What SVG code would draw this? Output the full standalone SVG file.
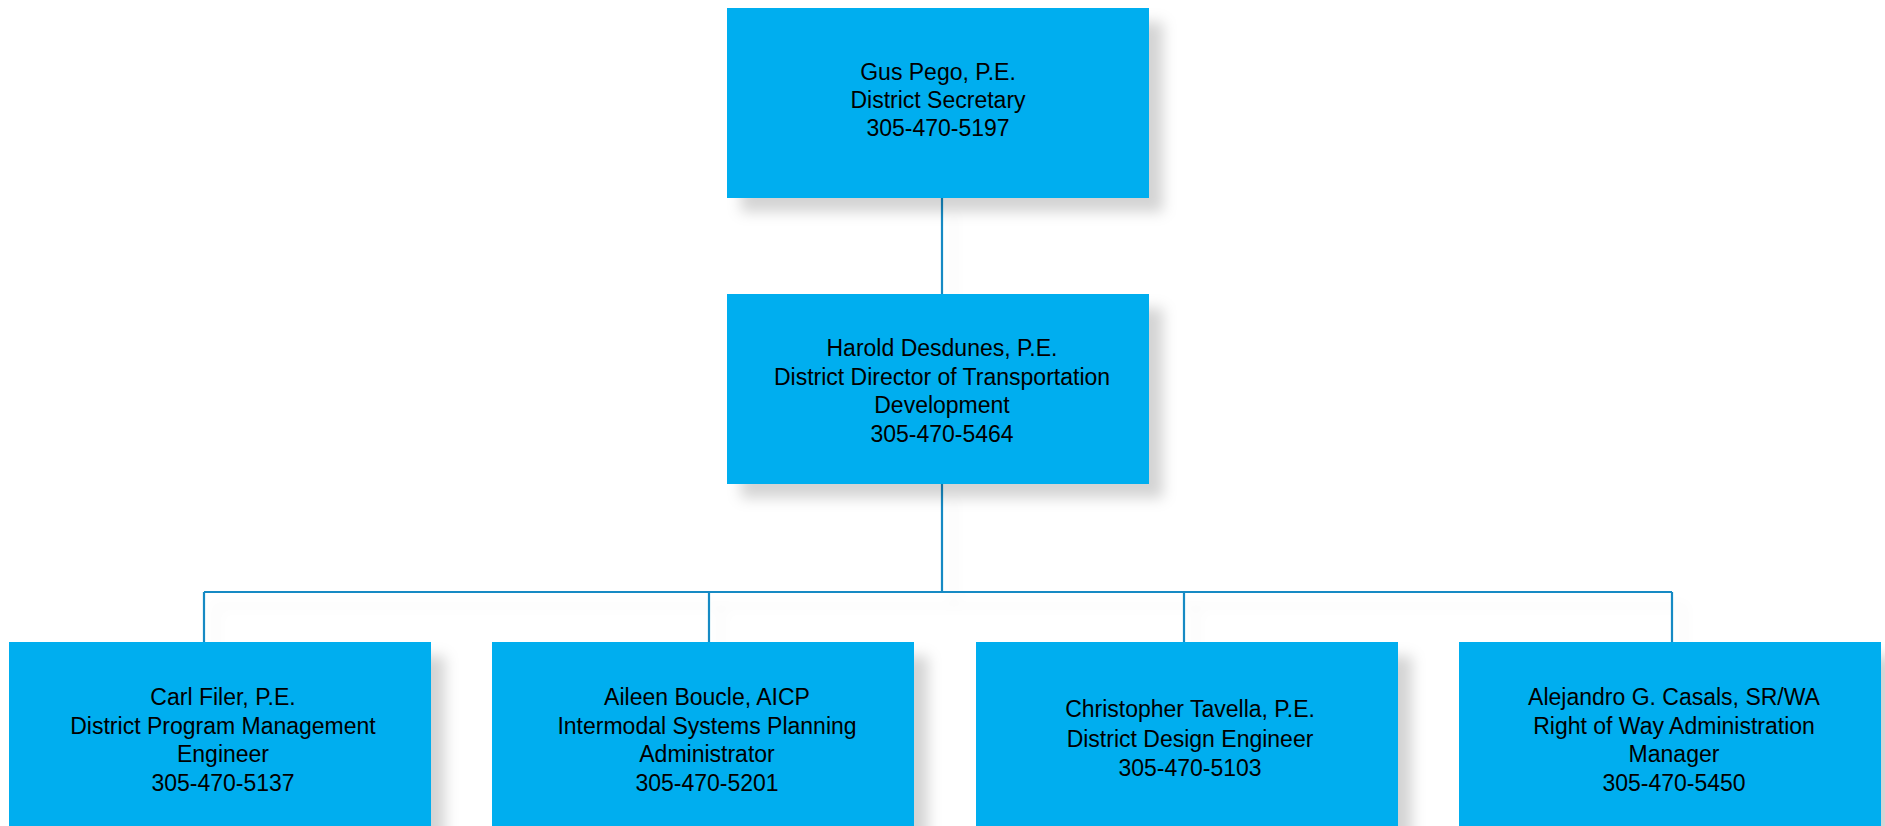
<svg xmlns="http://www.w3.org/2000/svg" width="1885" height="826" viewBox="0 0 1885 826">
<defs>
<filter id="sh" x="-10%" y="-10%" width="135%" height="150%">
<feGaussianBlur in="SourceAlpha" stdDeviation="7"/>
<feOffset dx="14" dy="14" result="b"/>
<feFlood flood-color="#000" flood-opacity="0.17"/>
<feComposite in2="b" operator="in"/>
<feMerge><feMergeNode/><feMergeNode in="SourceGraphic"/></feMerge>
</filter>
<filter id="lsh" x="-5%" y="-50%" width="110%" height="300%">
<feGaussianBlur in="SourceAlpha" stdDeviation="6"/>
<feOffset dx="12" dy="14" result="b"/>
<feFlood flood-color="#000" flood-opacity="0.05"/>
<feComposite in2="b" operator="in"/>
<feMerge><feMergeNode/><feMergeNode in="SourceGraphic"/></feMerge>
</filter>
</defs>
<style>
.box{fill:#00aeef;filter:url(#sh)}
.t{font-family:"Liberation Sans",Arial,sans-serif;font-size:23px;fill:#000;text-anchor:middle}
.c{stroke:#168ac4;stroke-width:2.2;fill:none}
</style>
<rect width="1885" height="826" fill="#fff"/>
<g id="connectors" filter="url(#lsh)">
<path class="c" d="M942 198V294M942 484V592M204 592H1672M204 592V642M709 592V642M1184 592V642M1672 592V642"/>
</g>
<g id="node-pego">
<rect class="box" x="727" y="8" width="422" height="190"/>
<text class="t" x="938" y="80">Gus Pego, P.E.</text>
<text class="t" x="938" y="108">District Secretary</text>
<text class="t" x="938" y="136">305-470-5197</text>
</g>
<g id="node-desdunes">
<rect class="box" x="727" y="294" width="422" height="190"/>
<text class="t" x="942" y="356">Harold Desdunes, P.E.</text>
<text class="t" x="942" y="385">District Director of Transportation</text>
<text class="t" x="942" y="413">Development</text>
<text class="t" x="942" y="442">305-470-5464</text>
</g>
<g id="node-filer">
<rect class="box" x="9" y="642" width="422" height="192"/>
<text class="t" x="223" y="705">Carl Filer, P.E.</text>
<text class="t" x="223" y="734">District Program Management</text>
<text class="t" x="223" y="762">Engineer</text>
<text class="t" x="223" y="791">305-470-5137</text>
</g>
<g id="node-boucle">
<rect class="box" x="492" y="642" width="422" height="192"/>
<text class="t" x="707" y="705">Aileen Boucle, AICP</text>
<text class="t" x="707" y="734">Intermodal Systems Planning</text>
<text class="t" x="707" y="762">Administrator</text>
<text class="t" x="707" y="791">305-470-5201</text>
</g>
<g id="node-tavella">
<rect class="box" x="976" y="642" width="422" height="192"/>
<text class="t" x="1190" y="717">Christopher Tavella, P.E.</text>
<text class="t" x="1190" y="747">District Design Engineer</text>
<text class="t" x="1190" y="776">305-470-5103</text>
</g>
<g id="node-casals">
<rect class="box" x="1459" y="642" width="422" height="192"/>
<text class="t" x="1674" y="705">Alejandro G. Casals, SR/WA</text>
<text class="t" x="1674" y="734">Right of Way Administration</text>
<text class="t" x="1674" y="762">Manager</text>
<text class="t" x="1674" y="791">305-470-5450</text>
</g>
</svg>
